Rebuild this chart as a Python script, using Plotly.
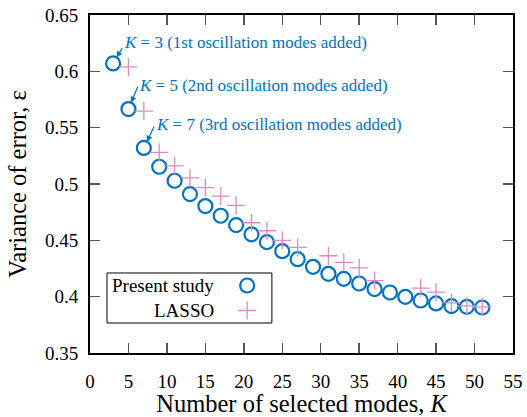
import plotly.graph_objects as go

# Data
k_present = [3, 5, 7, 9, 11, 13, 15, 17, 19, 21, 23, 25, 27, 29, 31, 33, 35, 37, 39, 41, 43, 45, 47, 49, 51]
eps_present = [0.607, 0.5665, 0.532, 0.5153, 0.5029, 0.491, 0.4804, 0.4718, 0.4635, 0.4553, 0.4484,
               0.4404, 0.4333, 0.4265, 0.4203, 0.4158, 0.4117, 0.4067, 0.4037, 0.3998, 0.3966,
               0.394, 0.3916, 0.391, 0.3904]

k_lasso = [5, 7, 9, 11, 13, 15, 17, 19, 21, 23, 25, 27, 31, 33, 35, 37, 43, 45, 47, 49, 51]
eps_lasso = [0.604, 0.5647, 0.528, 0.516, 0.5055, 0.4967, 0.4893, 0.481, 0.4656, 0.4585, 0.450,
             0.4437, 0.4363, 0.4305, 0.4255, 0.4142, 0.4075, 0.404, 0.3945, 0.3918, 0.391]

x_ticks = [0, 5, 10, 15, 20, 25, 30, 35, 40, 45, 50, 55]
y_ticks = [0.35, 0.4, 0.45, 0.5, 0.55, 0.6, 0.65]

notes = ["<i>K</i> = 3 (1st oscillation modes added)",
         "<i>K</i> = 5 (2nd oscillation modes added)",
         "<i>K</i> = 7 (3rd oscillation modes added)"]

BLUE = "#0072BD"
PINK = "#D98CC2"
FONT = "Liberation Serif"

fig = go.Figure()
fig.add_trace(go.Scatter(x=k_present, y=eps_present, mode="markers", name="Present study",
                         marker=dict(symbol="circle-open", size=14, color=BLUE, line=dict(width=2.2, color=BLUE)),
                         showlegend=False, hoverinfo="skip"))
fig.add_trace(go.Scatter(x=k_lasso, y=eps_lasso, mode="markers", name="LASSO",
                         marker=dict(symbol="cross-thin-open", size=13, color=PINK, line=dict(width=1.3, color=PINK)),
                         showlegend=False, hoverinfo="skip"))

# legend markers on a tiny helper axis inside the legend box
fig.add_trace(go.Scatter(x=[0.85], y=[0.75], xaxis="x2", yaxis="y2", mode="markers", showlegend=False,
                         hoverinfo="skip",
                         marker=dict(symbol="circle-open", size=14, color=BLUE, line=dict(width=2.2, color=BLUE))))
fig.add_trace(go.Scatter(x=[0.85], y=[0.25], xaxis="x2", yaxis="y2", mode="markers", showlegend=False,
                         hoverinfo="skip",
                         marker=dict(symbol="cross-thin-open", size=13, color=PINK, line=dict(width=1.3, color=PINK))))

axis_common = dict(showline=True, linecolor="black", linewidth=2, mirror="ticks",
                   ticks="inside", ticklen=10, tickwidth=1.5, tickcolor="#555",
                   showgrid=False, zeroline=False, automargin=False,
                   tickfont=dict(family=FONT, size=19, color="black"))

fig.update_layout(
    template="none",
    width=527, height=417,
    margin=dict(l=90, r=14, t=15, b=64),
    plot_bgcolor="white", paper_bgcolor="white",
    xaxis=dict(range=[0, 55], tickvals=x_ticks, ticklabelstandoff=10,
               title=dict(text="Number of selected modes, <i>K</i>", font=dict(family=FONT, size=24.5, color="black"),
                          standoff=9),
               **axis_common),
    yaxis=dict(range=[0.35, 0.65], tickvals=y_ticks, ticklabelstandoff=6,
               title=dict(text="Variance of error, ε", font=dict(family=FONT, size=24.5, color="black"),
                          standoff=11),
               **axis_common),
    xaxis2=dict(domain=[0.0402, 0.430], range=[0, 1], visible=False, fixedrange=True, anchor="y2"),
    yaxis2=dict(domain=[0.0888, 0.2367], range=[0, 1], visible=False, fixedrange=True, anchor="x2"),
    showlegend=False,
    hovermode=False,
)

# legend box and texts
fig.add_shape(type="rect", xref="paper", yref="paper", x0=0.0402, x1=0.430, y0=0.0888, y1=0.2367,
              line=dict(color="black", width=1), fillcolor="rgba(0,0,0,0)")
fig.add_annotation(x=0.66, y=0.75, xref="x2", yref="y2", text="Present study", showarrow=False,
                   xanchor="right", yanchor="middle", font=dict(family=FONT, size=19, color="black"))
fig.add_annotation(x=0.66, y=0.25, xref="x2", yref="y2", text="LASSO", showarrow=False,
                   xanchor="right", yanchor="middle", font=dict(family=FONT, size=19, color="black"))

# callouts
offs = [(10, -17, 9, 21), (10, -24, 9, 24), (11, -23, 10, 23.5)]
for i, (note, (ax, ay, xs, ys)) in enumerate(zip(notes, offs)):
    fig.add_annotation(x=k_present[i], y=eps_present[i], text="", showarrow=True,
                       ax=ax, ay=ay, arrowhead=2, arrowsize=1, arrowwidth=1.2, arrowcolor=BLUE, standoff=7)
    fig.add_annotation(x=k_present[i], y=eps_present[i], text=note, showarrow=False,
                       xanchor="left", yanchor="middle", xshift=xs, yshift=ys,
                       font=dict(family=FONT, size=17, color=BLUE))

fig.write_html("out.html", config={"displayModeBar": False, "staticPlot": True},
               post_script="document.body.style.margin='0';document.body.style.overflow='hidden';")
